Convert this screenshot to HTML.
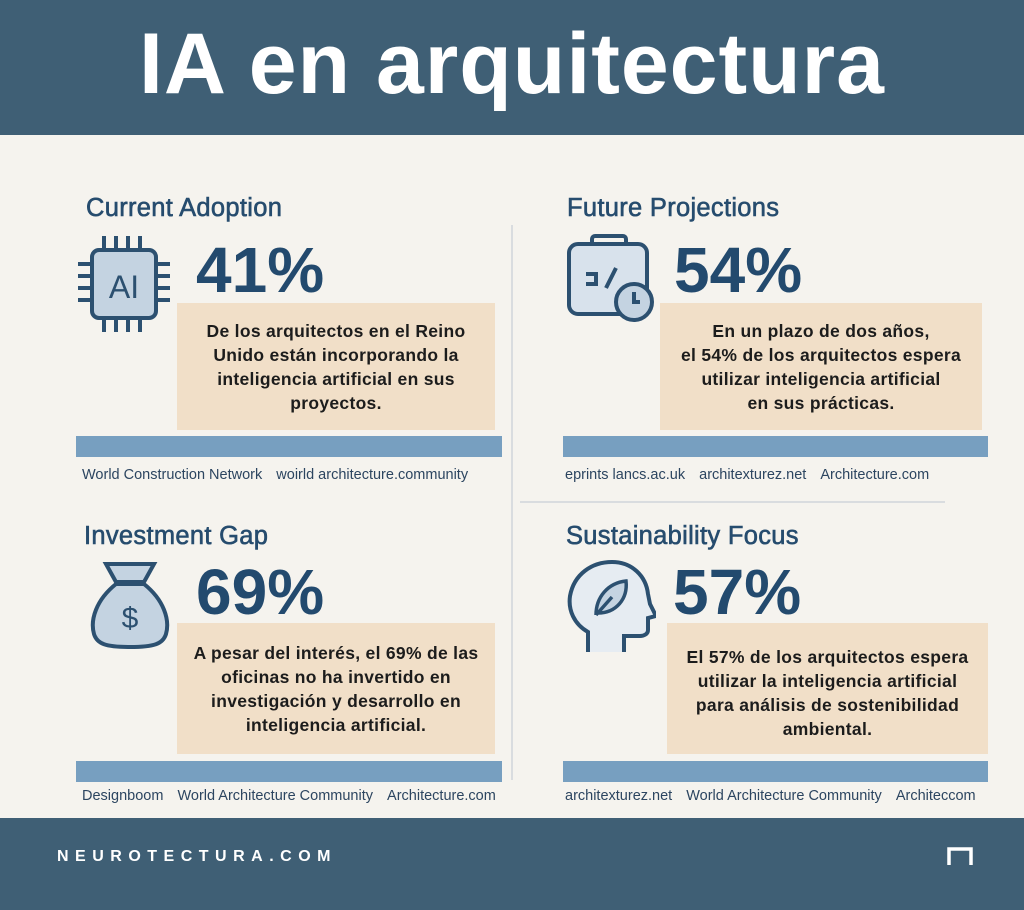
<!DOCTYPE html>
<html><head><meta charset="utf-8"><style>
*{margin:0;padding:0;box-sizing:border-box}
body{width:1024px;height:910px;background:#f5f3ee;position:relative;overflow:hidden;font-family:"Liberation Sans",sans-serif}
.a{position:absolute}
.hd{left:0;top:0;width:1024px;height:135px;background:#3f5f75;color:#fff;font-weight:bold;font-size:86px;text-align:center;line-height:128px;letter-spacing:1px}
.ft{left:0;top:818px;width:1024px;height:92px;background:#3f5f75}
.t{font-size:25.5px;color:#264c6e;white-space:nowrap;-webkit-text-stroke:0.6px #264c6e;letter-spacing:0.3px}
.p{font-size:64px;font-weight:bold;color:#234a6e;white-space:nowrap;line-height:64px}
.bx{background:#f1dfc8;display:flex;align-items:center;justify-content:center;text-align:center;font-weight:bold;font-size:17.5px;line-height:24px;color:#1c1c1c;letter-spacing:0.3px}
.bar{background:#779fc0;height:21px}
.s{font-size:14.5px;color:#2c4560;white-space:nowrap;word-spacing:10px}
.s span{word-spacing:0}
</style></head><body>
<div class="a hd">IA en arquitectura</div>
<div class="a" style="left:511px;top:225px;width:2px;height:555px;background:#d9dcdf"></div>
<div class="a" style="left:520px;top:501px;width:425px;height:2px;background:#d9dcdf"></div>

<div class="a t" style="left:86px;top:194px">Current Adoption</div>
<svg class="a" style="left:76px;top:234px" width="100" height="100" viewBox="0 0 100 100"><g stroke="#2c5070" stroke-width="4" fill="none"><path d="M28 2v14M40 2v14M52 2v14M64 2v14M28 84v14M40 84v14M52 84v14M64 84v14M2 30h14M2 42h14M2 54h14M2 66h14M80 30h14M80 42h14M80 54h14M80 66h14"/><rect x="16" y="16" width="64" height="68" rx="7" fill="#c4d3e1"/></g><text x="48" y="64" font-size="32" fill="#2c5070" text-anchor="middle" font-family="Liberation Sans">AI</text></svg>
<div class="a p" style="left:196px;top:238px">41%</div>
<div class="a bx" style="left:177px;top:303px;width:318px;height:127px;padding:0 16px">De los arquitectos en el Reino Unido están incorporando la inteligencia artificial en sus proyectos.</div>
<div class="a bar" style="left:76px;top:436px;width:426px"></div>
<div class="a s" style="left:82px;top:467px"><span>World Construction Network</span> <span>woirld architecture.community</span></div>

<div class="a t" style="left:567px;top:194px">Future Projections</div>
<svg class="a" style="left:566px;top:234px" width="95" height="95" viewBox="0 0 95 95"><g stroke="#2c5070" stroke-width="4" fill="#d8e2ec"><rect x="26" y="2" width="34" height="10" rx="3" fill="none"/><rect x="3" y="10" width="78" height="70" rx="9"/><path d="M20 40h10v10h-10M40 54l10-20" fill="none"/><circle cx="68" cy="68" r="18" fill="#c4d3e1"/><path d="M68 58v10h6" fill="none"/></g></svg>
<div class="a p" style="left:674px;top:238px">54%</div>
<div class="a bx" style="left:660px;top:303px;width:322px;height:127px;padding:0 8px">En un plazo de dos años,<br>el 54% de los arquitectos espera<br>utilizar inteligencia artificial<br>en sus prácticas.</div>
<div class="a bar" style="left:563px;top:436px;width:425px"></div>
<div class="a s" style="left:565px;top:467px"><span>eprints lancs.ac.uk</span> <span>architexturez.net</span> <span>Architecture.com</span></div>

<div class="a t" style="left:84px;top:522px">Investment Gap</div>
<svg class="a" style="left:88px;top:560px" width="84" height="90" viewBox="0 0 84 90"><g stroke="#2c5070" stroke-width="4" fill="#c4d3e1"><path d="M28 22L18 4h48L56 22z"/><path d="M28 24C8 40 2 60 6 74c3 10 12 13 36 13s33-3 36-13c4-14-2-34-22-50z"/></g><text x="42" y="68" font-size="30" fill="#2c5070" text-anchor="middle" font-family="Liberation Sans">$</text></svg>
<div class="a p" style="left:196px;top:560px">69%</div>
<div class="a bx" style="left:177px;top:623px;width:318px;height:131px;padding:0 12px">A pesar del interés, el 69% de las oficinas no ha invertido en investigación y desarrollo en inteligencia artificial.</div>
<div class="a bar" style="left:76px;top:761px;width:426px"></div>
<div class="a s" style="left:82px;top:788px"><span>Designboom</span> <span>World Architecture Community</span> <span>Architecture.com</span></div>

<div class="a t" style="left:566px;top:522px">Sustainability Focus</div>
<svg class="a" style="left:566px;top:560px" width="90" height="95" viewBox="0 0 90 95"><path d="M22 92V72C8 64 2 50 4 36 8 14 26 2 46 2c20 0 34 14 36 32l2 10 6 12-8 2v12c0 4-4 6-8 6H58v16" stroke="#2c5070" stroke-width="4" fill="#e6ecf2"/><path d="M30 55c0-18 12-32 30-34 2 18-10 32-28 32M30 55l16-18" stroke="#2c5070" stroke-width="3.5" fill="#c4d3e1"/></svg>
<div class="a p" style="left:673px;top:560px">57%</div>
<div class="a bx" style="left:667px;top:623px;width:321px;height:131px;padding:8px 18px 0">El 57% de los arquitectos espera utilizar la inteligencia artificial para análisis de sostenibilidad ambiental.</div>
<div class="a bar" style="left:563px;top:761px;width:425px"></div>
<div class="a s" style="left:565px;top:788px"><span>architexturez.net</span> <span>World Architecture Community</span> <span>Architeccom</span></div>

<div class="a ft"></div>
<div class="a" style="left:57px;top:848px;color:#fff;font-size:16px;letter-spacing:6.5px;font-weight:bold">NEUROTECTURA.COM</div>
<svg class="a" style="left:947px;top:847px" width="26" height="18"><path d="M2 18V2h22v16" stroke="#fff" stroke-width="3.5" fill="none"/></svg>
</body></html>
